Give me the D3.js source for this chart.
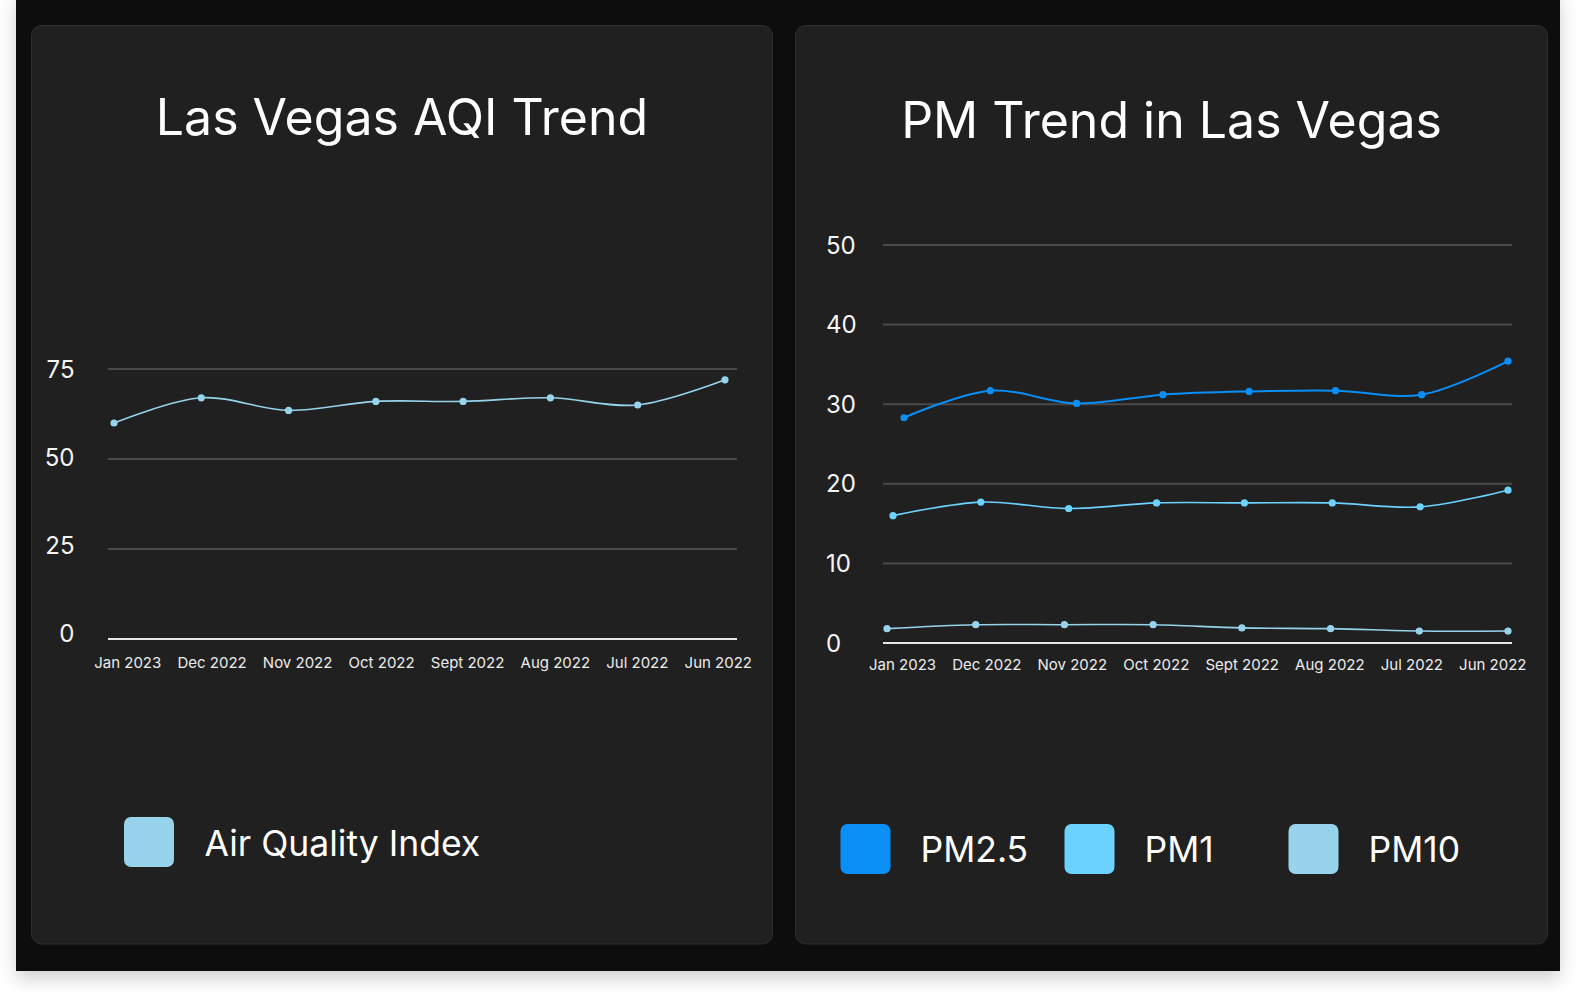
<!DOCTYPE html>
<html>
<head>
<meta charset="utf-8">
<script src="https://cdn.jsdelivr.net/npm/d3@7"></script>
<style>
  html, body { margin: 0; padding: 0; background: #ffffff; }
  svg { display: block; font-family: Inter, "Noto Sans", sans-serif; }
</style>
</head>
<body>
<svg id="chart" width="1580" height="992"></svg>
<script>
// ---------- DATA ----------
const months = ["Jan 2023", "Dec 2022", "Nov 2022", "Oct 2022", "Sept 2022", "Aug 2022", "Jul 2022", "Jun 2022"];
const aqiValues = [60, 67, 63.5, 66, 66, 67, 65, 72];
const pm25Values = [28.3, 31.7, 30.1, 31.2, 31.6, 31.7, 31.2, 35.4];
const pm1Values = [16.0, 17.7, 16.9, 17.6, 17.6, 17.6, 17.1, 19.2];
const pm10Values = [1.8, 2.3, 2.3, 2.3, 1.9, 1.8, 1.5, 1.5];
const aqiTicks = [0, 25, 50, 75];
const pmTicks = [0, 10, 20, 30, 40, 50];
const titles = ["Las Vegas AQI Trend", "PM Trend in Las Vegas"];
const aqiLegend = ["Air Quality Index"];
const pmLegend = ["PM2.5", "PM1", "PM10"];

// ---------- STYLE / LAYOUT ----------
const colors = { aqi: "#97d4ec", pm25: "#0a8ff7", pm1: "#6cd2ff", pm10: "#97d4ec" };
const gridColor = "#4a4a4a";
const baseColor = "#e6e6e6";
const textColor = "#f5f5f5";

const svg = d3.select("#chart");
const defs = svg.append("defs");
const f = defs.append("filter").attr("id", "shadow").attr("x", "-5%").attr("y", "-5%").attr("width", "110%").attr("height", "115%");
f.append("feDropShadow").attr("dx", 0).attr("dy", 8).attr("stdDeviation", 9).attr("flood-color", "#000").attr("flood-opacity", 0.18);

// outer frame
svg.append("rect").attr("x", 16).attr("y", -10).attr("width", 1544).attr("height", 981)
  .attr("fill", "#0a0a0a").attr("filter", "url(#shadow)");

// panels
const panels = [
  { x: 31.5, y: 25.5, w: 741, h: 918.5 },
  { x: 795.5, y: 25.5, w: 752, h: 918.5 }
];
panels.forEach(p => {
  svg.append("rect").attr("x", p.x).attr("y", p.y).attr("width", p.w).attr("height", p.h)
    .attr("rx", 10).attr("fill", "#202020").attr("stroke", "#2e2e2e").attr("stroke-width", 1);
});

// titles
svg.append("text").attr("x", 402).attr("y", 135).attr("text-anchor", "middle")
  .attr("font-size", 50).attr("fill", "#ffffff").text(titles[0]);
svg.append("text").attr("x", 1171.5).attr("y", 138).attr("text-anchor", "middle")
  .attr("font-size", 50).attr("fill", "#ffffff").text(titles[1]);

function drawChart(cfg) {
  const g = svg.append("g");
  const y = d3.scaleLinear().domain(cfg.domain).range(cfg.yRange);
  const yl = d3.scaleLinear().domain(cfg.domain).range(cfg.labelRange || cfg.yRange);
  // grid
  g.selectAll(".grid").data(cfg.ticks.filter(t => t !== 0)).join("line")
    .attr("x1", cfg.xPlot[0]).attr("x2", cfg.xPlot[1])
    .attr("y1", d => y(d)).attr("y2", d => y(d))
    .attr("stroke", gridColor).attr("stroke-width", 2);
  // base line
  g.append("line").attr("x1", cfg.xPlot[0]).attr("x2", cfg.xPlot[1])
    .attr("y1", y(0)).attr("y2", y(0)).attr("stroke", baseColor).attr("stroke-width", 2);
  // y labels
  g.selectAll(".ylab").data(cfg.ticks).join("text")
    .attr("x", cfg.yLabelX).attr("y", d => yl(d)).attr("dy", "0.36em")
    .attr("text-anchor", cfg.yAnchor).attr("font-size", 24).attr("fill", textColor)
    .text(d => d);
  // x labels: spread with equal gaps between the first label's left and last label's right
  const xt = g.selectAll(".xlab").data(months).join("text")
    .attr("y", cfg.xLabelY).attr("font-size", 15).attr("fill", "#ececec").text(d => d);
  const widths = xt.nodes().map(n => n.getComputedTextLength());
  const total = widths.reduce((a, b) => a + b, 0);
  const gap = (cfg.xLabelSpan[1] - cfg.xLabelSpan[0] - total) / (months.length - 1);
  let cur = cfg.xLabelSpan[0];
  const lefts = widths.map(w => { const l = cur; cur += w + gap; return l; });
  xt.attr("x", (d, i) => lefts[i]);
  // series
  cfg.series.forEach(s => {
    const x = d3.scalePoint().domain(months).range(s.xRange);
    const line = d3.line().x((d, i) => x(months[i])).y(d => y(d)).curve(d3.curveCatmullRom.alpha(0.5));
    g.append("path").datum(s.values).attr("d", line).attr("fill", "none")
      .attr("stroke", s.color).attr("stroke-width", s.width);
    g.selectAll(null).data(s.values).join("circle")
      .attr("cx", (d, i) => x(months[i])).attr("cy", d => y(d)).attr("r", 3.6).attr("fill", s.color);
  });
}

drawChart({
  domain: [0, 75], yRange: [639, 369], labelRange: [633, 369], ticks: aqiTicks,
  xPlot: [108, 737], yLabelX: 74.5, yAnchor: "end",
  xLabelSpan: [94.2, 752], xLabelY: 668,
  series: [{ values: aqiValues, color: colors.aqi, width: 1.6, xRange: [114, 725] }]
});

drawChart({
  domain: [0, 50], yRange: [643, 245], ticks: pmTicks,
  xPlot: [883, 1512], yLabelX: 826, yAnchor: "start",
  xLabelSpan: [869, 1526.5], xLabelY: 670,
  series: [
    { values: pm10Values, color: colors.pm10, width: 1.6, xRange: [887, 1508] },
    { values: pm1Values, color: colors.pm1, width: 1.6, xRange: [893, 1508] },
    { values: pm25Values, color: colors.pm25, width: 2, xRange: [904, 1508] }
  ]
});

// legends
const leg1 = svg.append("g");
leg1.selectAll("rect").data(aqiLegend).join("rect")
  .attr("x", 124).attr("y", 817).attr("width", 50).attr("height", 50).attr("rx", 7).attr("fill", colors.aqi);
leg1.selectAll("text").data(aqiLegend).join("text")
  .attr("x", 204.5).attr("y", 856).attr("font-size", 35.5).attr("fill", "#ffffff").text(d => d);

const legColors = [colors.pm25, colors.pm1, colors.pm10];
const leg2 = svg.append("g");
leg2.selectAll("rect").data(pmLegend).join("rect")
  .attr("x", (d, i) => 840.5 + i * 224).attr("y", 824).attr("width", 50).attr("height", 50).attr("rx", 7)
  .attr("fill", (d, i) => legColors[i]);
leg2.selectAll("text").data(pmLegend).join("text")
  .attr("x", (d, i) => 920.5 + i * 224).attr("y", 862).attr("font-size", 35.5).attr("fill", "#ffffff").text(d => d);
</script>
</body>
</html>
